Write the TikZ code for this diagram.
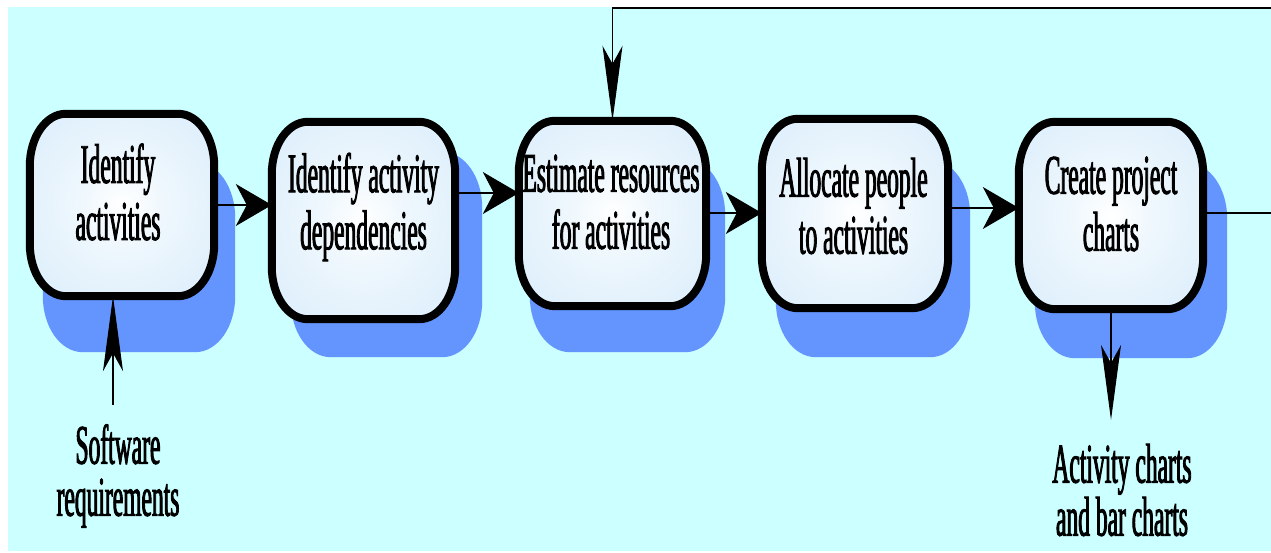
\documentclass[tikz,border=0pt]{standalone}
\usepackage{fontspec}
\setmainfont{Liberation Serif}
\newfontfamily\condfont[FakeStretch=0.42,FakeBold=1.6]{Liberation Serif}
\usetikzlibrary{arrows.meta}

\definecolor{panel}{RGB}{204,255,255}
\definecolor{shadowblue}{RGB}{100,149,255}
\definecolor{boxblue}{RGB}{208,232,250}
\definecolor{boxmid}{RGB}{238,247,253}
\pgfdeclareradialshading{boxglow}{\pgfpoint{0bp}{0bp}}{color(0bp)=(white); color(12bp)=(boxmid); color(48bp)=(boxblue); color(72bp)=(boxblue)}

\tikzset{
  x=1pt, y=1pt,
  procnode/.style={draw=none, inner sep=0pt, rectangle},
  boxtext/.style={font=\condfont\fontsize{56pt}{57pt}\selectfont, align=center, inner sep=0pt},
  conn/.style={line width=1.2pt, draw=black},
  hhead/.style={conn, -{Stealth[length=36pt,width=42pt,inset=11pt]}},
  vhead/.style={conn, -{Stealth[length=75pt,width=20pt,inset=18pt]}},
  boxline/.style={draw=black, line width=8pt, shade, shading=boxglow},
  boxshadow/.style={fill=shadowblue, draw=shadowblue, line width=8pt},
}

% rounded outline with elliptical corners around a node, shifted by (#3,#4)
\newcommand\procoutline[4]{%
  \path[#1] ([shift={(#3+36,#4)}]#2.south west) -- ([shift={(#3-36,#4)}]#2.south east)
    arc[start angle=-90,end angle=0,x radius=36,y radius=52]
    -- ([shift={(#3,#4-52)}]#2.north east)
    arc[start angle=0,end angle=90,x radius=36,y radius=52]
    -- ([shift={(#3+36,#4)}]#2.north west)
    arc[start angle=90,end angle=180,x radius=36,y radius=52]
    -- ([shift={(#3,#4+52)}]#2.south west)
    arc[start angle=180,end angle=270,x radius=36,y radius=52]
    -- cycle;}

\begin{document}
\begin{tikzpicture}
\useasboundingbox (0,0) rectangle (1271,553);
\fill[panel] (8,2) rectangle (1271,546);

% process boxes (centre line of the border)
\node[procnode, minimum width=184pt, minimum height=182pt] (b1) at (122,348) {};
\node[procnode, minimum width=183pt, minimum height=197pt] (b2) at (363.5,332.5) {};
\node[procnode, minimum width=187pt, minimum height=185pt] (b3) at (612.5,339.5) {};
\node[procnode, minimum width=186pt, minimum height=189pt] (b4) at (855,339.5) {};
\node[procnode, minimum width=184pt, minimum height=187pt] (b5) at (1111,337.5) {};

% drop shadows
\procoutline{boxshadow}{b1}{17}{-52}
\procoutline{boxshadow}{b2}{23}{-34}
\procoutline{boxshadow}{b3}{15}{-42}
\procoutline{boxshadow}{b4}{18}{-45}
\procoutline{boxshadow}{b5}{20}{-45}

% boxes
\procoutline{boxline}{b1}{0}{0}
\procoutline{boxline}{b2}{0}{0}
\procoutline{boxline}{b3}{0}{0}
\procoutline{boxline}{b4}{0}{0}
\procoutline{boxline}{b5}{0}{0}

% labels
\node[boxtext] (t1) at (118,361) {Identify\\activities};
\node[boxtext] (t2) at (363.5,346) {Identify activity\\dependencies};
\node[boxtext] (t3) at (611,351) {Estimate resources\\for activities};
\node[boxtext] (t4) at (853.5,347) {Allocate people\\to activities};
\node[boxtext] (t5) at (1111,349) {Create project\\charts};
\node[boxtext, font=\condfont\fontsize{56pt}{52pt}\selectfont] (sin) at (118,77) {Software\\requirements};
\node[boxtext, font=\condfont\fontsize{56pt}{53pt}\selectfont] (sout) at (1122,63) {Activity charts\\and bar charts};

% flow between boxes
\draw[hhead] (b1.east |- 0,348) -- (b2.west |- 0,348);
\draw[hhead] (b2.east |- 0,360) -- (b3.west |- 0,360);
\draw[hhead] (b3.east |- 0,340) -- (b4.west |- 0,340);
\draw[hhead] (b4.east |- 0,345) -- (b5.west |- 0,345);

% feedback loop back to resource estimation
\coordinate (loopr) at (1290,340);
\coordinate (loopt) at (1290,545);
\draw[vhead] (b5.east |- loopr) -- (loopr) -- (loopt) -- (b3.north |- loopt) -- (b3.north);

% input and output
\coordinate (reqin) at (113,148);
\coordinate (chartout) at (1111,133);
\draw[vhead] (reqin) -- (reqin |- b1.south);
\draw[vhead] (b5.south) -- (chartout);
\end{tikzpicture}
\end{document}
